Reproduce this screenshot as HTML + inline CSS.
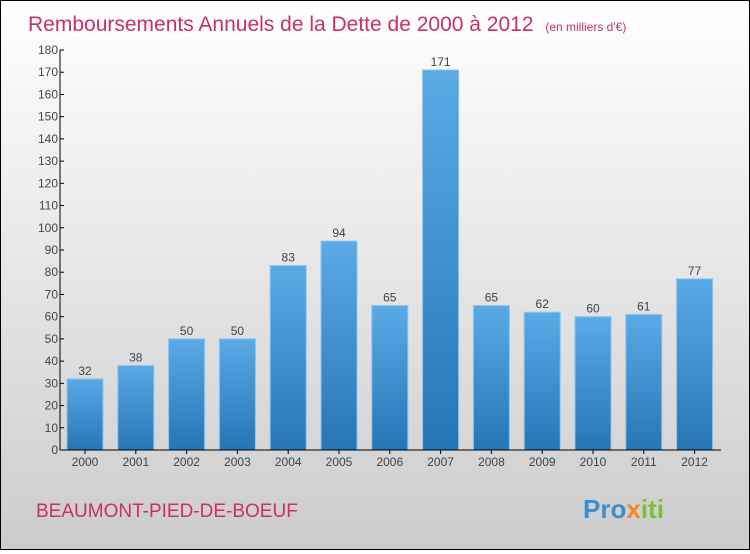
<!DOCTYPE html>
<html><head><meta charset="utf-8"><style>
body{margin:0}
#c{width:748px;height:548px;border:1px solid #000;background:linear-gradient(#fff,#ccc);position:relative;font-family:"Liberation Sans",sans-serif}
</style></head><body>
<div id="c">
<svg width="748" height="548" id="svg">
<text x="27" y="30" font-size="21" fill="#c8306a">Remboursements Annuels de la Dette de 2000 à 2012 <tspan font-size="12" dx="6">(en milliers d'€)</tspan></text>
<text x="35" y="516" font-size="19" fill="#c8306a">BEAUMONT-PIED-DE-BOEUF</text>
<text x="582" y="517" font-size="26" font-weight="bold"><tspan fill="#3a8fd0">Pro</tspan><tspan fill="#f08a1c">x</tspan><tspan fill="#7bbf3a">iti</tspan></text>
<defs><linearGradient id="g" x1="0" y1="0" x2="0" y2="1"><stop offset="0" stop-color="#5aaae6"/><stop offset="1" stop-color="#2676b6"/></linearGradient></defs>
<g id="plot"></g>
</svg>
</div>
<script>
const categories=["2000","2001","2002","2003","2004","2005","2006","2007","2008","2009","2010","2011","2012"];
const values=[32,38,50,50,83,94,65,171,65,62,60,61,77];
const yTicks=[0,10,20,30,40,50,60,70,80,90,100,110,120,130,140,150,160,170,180];
const ns="http://www.w3.org/2000/svg";
const g=document.getElementById('plot');
const x0=59,y0=449,yTop=49,yMax=180,step=50.8,bw=36;
const y=v=>y0-(y0-yTop)*v/yMax;
const xc=i=>x0+25+i*step;
function mk(t,a,p){const e=document.createElementNS(ns,t);for(const k in a)e.setAttribute(k,a[k]);(p||g).appendChild(e);return e;}
values.forEach((v,i)=>{
 const r=mk('rect',{x:xc(i)-bw/2,y:y(v),width:bw,height:y0-y(v),fill:'url(#g)',stroke:'#8cc4ee','stroke-width':1});
 
 
 const t=mk('text',{x:xc(i),y:y(v)-4,'text-anchor':'middle','font-size':12,fill:'#444'});t.textContent=v;
 
 
 const c=mk('text',{x:xc(i),y:y0+16,'text-anchor':'middle','font-size':12,fill:'#444'});c.textContent=categories[i];
 
 
 mk('line',{x1:xc(i),x2:xc(i),y1:y0,y2:y0+4,stroke:'#000'});
});
yTicks.forEach(v=>{
 mk('line',{x1:x0,x2:x0+4,y1:y(v),y2:y(v),stroke:'#000'});
 const t=mk('text',{x:x0-2,y:y(v)+4,'text-anchor':'end','font-size':12,fill:'#444'});t.textContent=v;
 
 
});
const ya=mk('line',{x1:x0,x2:x0,y1:yTop,y2:y0,stroke:'#000'});


const xa=mk('line',{x1:x0,x2:720,y1:y0,y2:y0,stroke:'#000'});


</script>
</body></html>
